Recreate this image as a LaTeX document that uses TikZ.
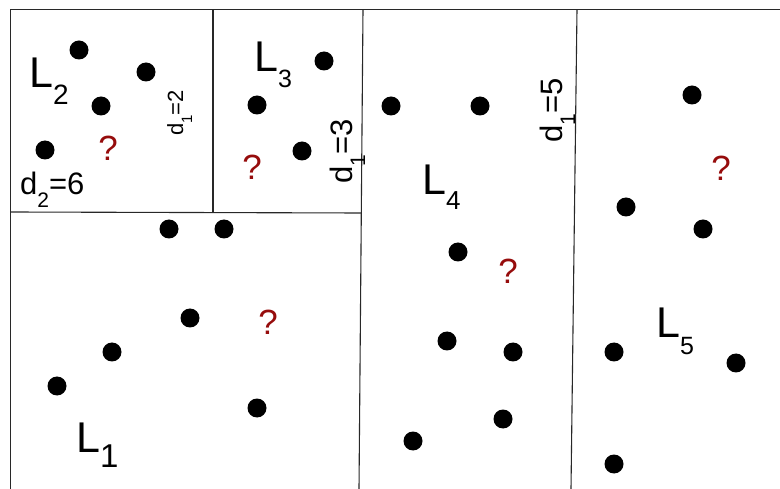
\documentclass[tikz,border=0pt]{standalone}
\usepackage{fontspec}
\setmainfont{Liberation Sans}
\definecolor{qred}{RGB}{150,12,12}
\definecolor{linegray}{RGB}{40,40,40}
\begin{document}
\begin{tikzpicture}[x=1pt,y=-1pt,
  dot/.style={circle,fill=black,inner sep=0pt,minimum size=19pt},
  qmark/.style={text=qred,inner sep=0pt,font=\fontsize{35}{35}\selectfont},
  region/.style={draw=linegray,line width=1.1pt},
  lab/.style={inner sep=0pt,anchor=base west,font=\fontsize{43}{43}\selectfont},
  dlab/.style={inner sep=0pt,anchor=base west,font=\fontsize{31}{31}\selectfont},
  dsmall/.style={inner sep=0pt,anchor=base west,font=\fontsize{22}{22}\selectfont}]
\useasboundingbox (0,0) rectangle (780,489);
% region boundaries
\draw[region] (10.5,489) -- (10.5,9.5) -- (780,9.5);
\draw[region] (213,9.5) -- (213,212);
\draw[region] (10.5,212) -- (361.5,213);
\draw[region] (363,9.5) -- (359,489);
\draw[region] (577,9.5) -- (571,489);
% dots
\node[dot] (a1) at (79,50) {};
\node[dot] (a2) at (146,72) {};
\node[dot] (a3) at (101,106) {};
\node[dot] (a4) at (45,150) {};
\node[dot] (b1) at (324,61) {};
\node[dot] (b2) at (257,105) {};
\node[dot] (b3) at (302,151) {};
\node[dot] (c1) at (391,106) {};
\node[dot] (c2) at (480,106) {};
\node[dot] (c3) at (458,252) {};
\node[dot] (c4) at (447,341) {};
\node[dot] (c5) at (513,352) {};
\node[dot] (c6) at (503,419) {};
\node[dot] (c7) at (413,441) {};
\node[dot] (e1) at (169,229) {};
\node[dot] (e2) at (224,229) {};
\node[dot] (e3) at (190,318) {};
\node[dot] (e4) at (112,352) {};
\node[dot] (e5) at (57,386) {};
\node[dot] (e6) at (257,408) {};
\node[dot] (f1) at (692,95) {};
\node[dot] (f2) at (626,207) {};
\node[dot] (f3) at (703,229) {};
\node[dot] (f4) at (614,352) {};
\node[dot] (f5) at (736,363) {};
\node[dot] (f6) at (614,464) {};
% question marks
\node[qmark] (q2) at (108,148) {?};
\node[qmark] (q3) at (252,167) {?};
\node[qmark] (q4) at (508,271) {?};
\node[qmark] (q1) at (268,322) {?};
\node[qmark] (q5) at (721,168) {?};
% region labels
\node[lab] (L2) at (29,88) {L\raisebox{-17pt}{\fontsize{28}{28}\selectfont 2}};
\node[lab] (L3) at (254,72) {L\raisebox{-16pt}{\fontsize{25}{25}\selectfont 3}};
\node[lab] (L4) at (422,195) {L\raisebox{-15pt}{\fontsize{26}{26}\selectfont 4}};
\node[lab] (L1) at (76,452) {L\raisebox{-16pt}{\fontsize{33}{33}\selectfont 1}};
\node[lab] (L5) at (656,338) {L\raisebox{-17pt}{\fontsize{25}{25}\selectfont 5}};
% distance labels
\node[dlab] (d26) at (20,195) {d\raisebox{-13pt}{\fontsize{21}{21}\selectfont 2}=6};
\node[dsmall,rotate=90] (d12) at (183,136) {d\raisebox{-9pt}{\fontsize{15}{15}\selectfont 1}=2};
\node[dlab,rotate=90] (d13) at (352,184) {d\raisebox{-13pt}{\fontsize{21}{21}\selectfont 1}=3};
\node[dlab,rotate=90] (d15) at (562,143) {d\raisebox{-13pt}{\fontsize{21}{21}\selectfont 1}=5};
\end{tikzpicture}
\end{document}
